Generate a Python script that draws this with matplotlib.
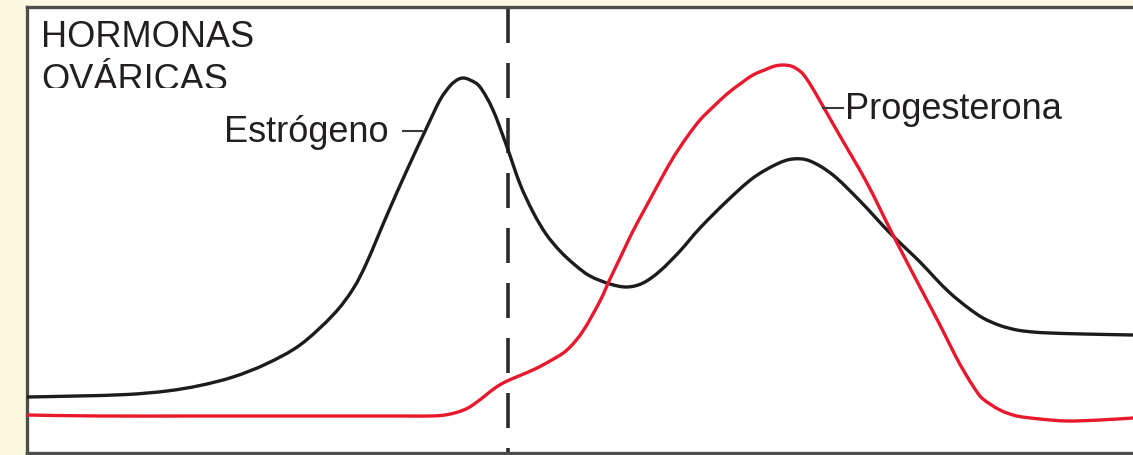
import numpy as np
import matplotlib
matplotlib.use("Agg")
import matplotlib.pyplot as plt
from matplotlib.patches import Rectangle, PathPatch
from matplotlib.path import Path

# ---- data (position along cycle, hormone level) ----
estrogen_x = [0, 50, 100, 140, 173, 206, 239, 273, 306, 326, 340, 360, 380, 400,
              413, 423, 430, 436, 443, 453, 466, 480, 493, 506, 519, 533, 548,
              563, 583, 600, 616, 633, 653, 673, 700, 726, 750, 766, 783, 806,
              833, 863, 893, 908, 923, 940, 956, 973, 990, 1006, 1023, 1056, 1106]
estrogen_y = [56, 57, 58.5, 62, 67.5, 76, 89, 108, 138, 164, 191, 238, 283, 326,
              353, 367, 373, 375, 373, 366, 343, 306, 269, 241, 219, 202, 188,
              177, 169, 166, 170, 182, 202, 225, 252, 275, 289, 294, 292, 278,
              252, 220, 191, 175, 160, 146, 135, 127.5, 123, 121, 120, 119, 118]

progest_x = [0, 73, 173, 273, 373, 403, 418, 431, 441, 450, 459, 468, 478, 493,
             508, 523, 540, 556, 573, 583, 595, 606, 620, 633, 646, 660, 673, 686,
             700, 713, 726, 740, 748, 756, 764, 770, 776, 783, 793, 813, 840,
             866, 893, 913, 928, 938, 948, 956, 973, 990, 1013, 1040, 1073, 1106]
progest_y = [38, 37, 37, 37, 37, 37, 38, 41, 45, 51, 58, 65, 71, 77.5,
             84, 92, 103, 122, 152, 174, 199, 222, 248, 272, 295, 316, 333, 346,
             359, 369, 378, 384, 387, 388, 387, 384, 379, 369, 352, 317, 270,
             218, 166, 128, 98, 80, 64, 54, 43, 37, 34, 32, 33, 35]

ovulation_x = 481

title_lines = ["HORMONAS", "OVÁRICAS"]
label_estrogen = "Estrógeno"
label_progest = "Progesterona"


def smooth_path(xs, ys):
    """Smooth Bezier path (Catmull-Rom tangents) passing through every data point."""
    p = np.column_stack([xs, ys]).astype(float)
    ext = np.vstack([p[0], p, p[-1]])
    verts = [p[0]]
    codes = [Path.MOVETO]
    for i in range(len(p) - 1):
        p0, p1, p2, p3 = ext[i], ext[i + 1], ext[i + 2], ext[i + 3]
        c1 = p1 + (p2 - p0) / 6.0
        c2 = p2 - (p3 - p1) / 6.0
        verts += [c1, c2, p2]
        codes += [Path.CURVE4] * 3
    return Path(verts, codes)


# ---- figure ----
W, H = 1133, 455
fig = plt.figure(figsize=(W / 100, H / 100), dpi=100)
fig.patch.set_facecolor("#fdf9e1")

ax = fig.add_axes([27 / W, 2 / H, 1120 / W, 446 / H])
ax.set_facecolor("white")
ax.set_xlim(0, 1120)
ax.set_ylim(0, 446)
ax.set_xticks([])
ax.set_yticks([])
for side in ("left", "top", "bottom"):
    ax.spines[side].set_color("#4d4d4d")
    ax.spines[side].set_linewidth(2.4)
ax.spines["right"].set_visible(False)

ax.add_patch(PathPatch(smooth_path(estrogen_x, estrogen_y), facecolor="none",
                       edgecolor="#1c1c1c", lw=2.4, capstyle="round",
                       joinstyle="round", zorder=3))
ax.add_patch(PathPatch(smooth_path(progest_x, progest_y), facecolor="none",
                       edgecolor="#e8192c", lw=2.4, capstyle="round",
                       joinstyle="round", zorder=3))

# ovulation dashed line
ax.plot([ovulation_x, ovulation_x], [445, 0], color="#2b2b2b", lw=2.6,
        dashes=(25.2 / 2.6, 14.4 / 2.6), dash_capstyle="butt", zorder=2)

txt_kw = dict(fontsize=26, color="#231f20", family=["Liberation Sans", "DejaVu Sans"])

ax.text(14, 406, title_lines[0], ha="left", va="baseline", **txt_kw)
t2 = ax.text(14, 363, title_lines[1], ha="left", va="baseline", clip_on=True, **txt_kw)
clip = Rectangle((0, 365.5), 1120, 100, transform=ax.transData)
t2.set_clip_path(clip)

ax.text(197, 311, label_estrogen, ha="left", va="baseline", **txt_kw)
ax.text(818, 334, label_progest, ha="left", va="baseline", **txt_kw)

# leader ticks next to labels
ax.plot([376, 395], [322, 322], color="#3a3a3a", lw=1.5, zorder=4)
ax.plot([796, 816], [345, 345], color="#3a3a3a", lw=1.5, zorder=4)

fig.savefig("out.png", dpi=100, facecolor=fig.get_facecolor())
